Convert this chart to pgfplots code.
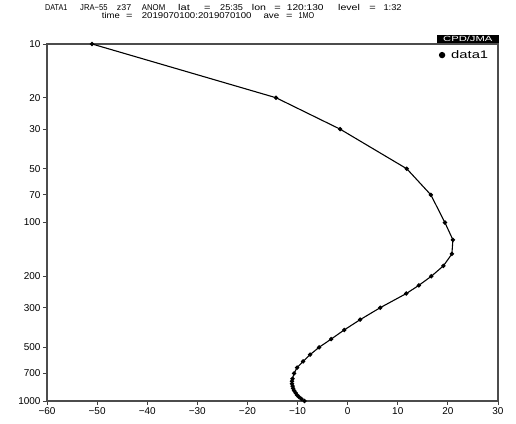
\documentclass[border=0pt]{standalone}
\usepackage{fontspec}
\setmainfont{Liberation Sans}
\usepackage{pgfplots}
\pgfplotsset{compat=1.18}

% JRA-55 z37 anomaly, levels 1:32 (hPa), value
\pgfplotstableread{
p x
10 -51.0
20 -14.3
30 -1.5
50 11.8
70 16.6
100 19.4
125 21.0
150 20.8
175 19.1
200 16.7
225 14.2
250 11.7
300 6.5
350 2.5
400 -0.7
450 -3.3
500 -5.7
550 -7.5
600 -8.9
650 -10.1
700 -10.7
750 -11.0
775 -11.1
800 -11.1
825 -11.0
850 -10.9
875 -10.7
900 -10.4
925 -10.1
950 -9.7
975 -9.2
1000 -8.6
}\profile

% title word: pixel x, baseline y, horizontal stretch, text
\newcommand\tw[4]{\node[anchor=base west, inner sep=0pt,
  font=\fontsize{8.5}{10}\selectfont] at (#1-47,#2) {\scalebox{#3}[1]{#4}};}

\begin{document}
\begin{tikzpicture}[x=1bp,y=1bp]
\useasboundingbox (-47,-22) rectangle (469,401);

\begin{axis}[
    at={(0,0)}, anchor=south west,
    scale only axis,
    width=451bp, height=357bp,
    xmin=-60, xmax=30,
    ymode=log, y dir=reverse,
    ymin=10, ymax=1000,
    xtick={-60,-50,...,30},
    xticklabels={−60,−50,−40,−30,−20,−10,0,10,20,30},
    ytick={10,20,30,50,70,100,200,300,500,700,1000},
    yticklabels={10,20,30,50,70,100,200,300,500,700,1000},
    minor ytick={},
    tick align=outside,
    xtick pos=left, ytick pos=left,
    major tick length=4bp,
    axis line style={draw=black!70, line width=1.3bp},
    tick style={black!75, line width=0.9bp},
    tick label style={font=\fontsize{10}{12}\selectfont},
    xticklabel style={yshift=1bp},
    yticklabel style={xshift=1bp},
    legend style={at={(axis description cs:0.8685,0.969)}, anchor=west,
        draw=none, fill=none, inner sep=0pt, column sep=0pt,
        nodes={inner sep=0pt},
        font=\fontsize{11}{13}\selectfont},
    legend image code/.code={\fill[black, draw=none] (3.2bp,0bp) circle (3.2bp);
        \path[draw=none] (0bp,0bp) -- (12.3bp,0bp);},
]
\addplot[black, line width=1.1bp, mark=*, mark size=1.6bp] table[x=x, y=p] {\profile};
\addlegendentry{\scalebox{1.35}[1]{data1}}
\end{axis}

\node[anchor=south east, fill=black, text=white, inner sep=0pt,
      minimum width=62bp, minimum height=8.2bp,
      font=\fontsize{7.5}{8}\selectfont] at (452,357.6) {\scalebox{1.5}[1]{CPD/JMA}};

\tw{45}{390}{0.85}{DATA1}
\tw{80}{390}{0.9}{JRA−55}
\tw{116.7}{390}{1.05}{z37}
\tw{141.7}{390}{0.92}{ANOM}
\tw{178}{390}{1.3}{lat}
\tw{204}{390}{1.3}{=}
\tw{220}{390}{1.08}{25:35}
\tw{251.7}{390}{1.25}{lon}
\tw{274.2}{390}{1.3}{=}
\tw{286.7}{390}{1.2}{120:130}
\tw{338}{390}{1.25}{level}
\tw{369.2}{390}{1.3}{=}
\tw{383.3}{390}{1.1}{1:32}
\tw{101.7}{382.3}{1.12}{time}
\tw{125.9}{382.3}{1.3}{=}
\tw{141.7}{382.3}{1.135}{2019070100:2019070100}
\tw{263.3}{382.3}{1.15}{ave}
\tw{285.9}{382.3}{1.3}{=}
\tw{298.3}{382.3}{0.85}{1MO}
\end{tikzpicture}
\end{document}
